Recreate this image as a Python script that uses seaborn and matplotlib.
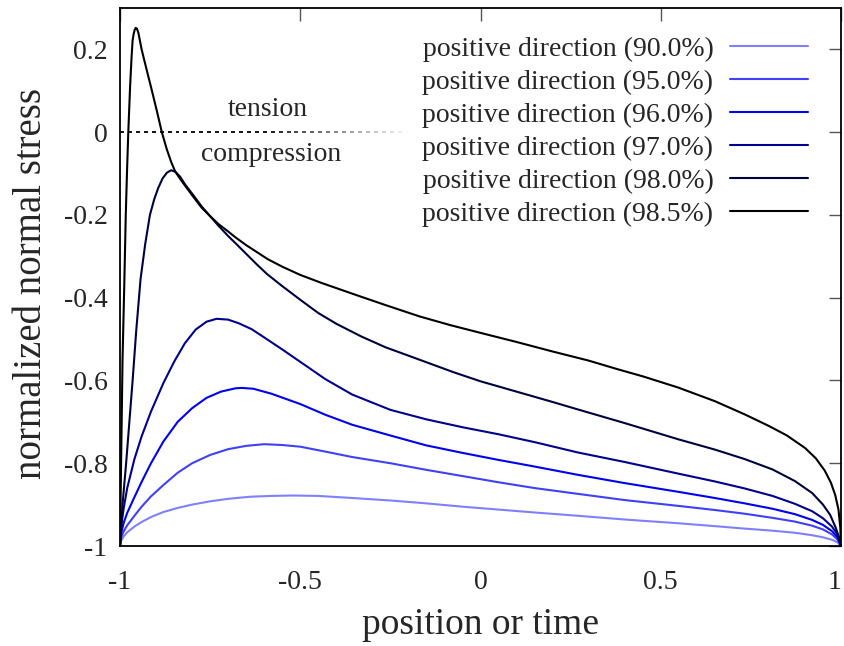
import numpy as np
import matplotlib
matplotlib.use("Agg")
import matplotlib.pyplot as plt
import seaborn as sns
from matplotlib.collections import LineCollection

# ---------------- data ----------------
labels = ["positive direction (90.0%)", "positive direction (95.0%)",
          "positive direction (96.0%)", "positive direction (97.0%)",
          "positive direction (98.0%)", "positive direction (98.5%)"]
colors = ["#8080ff", "#4040f8", "#0000f0", "#00008c", "#00003c", "#000000"]

x_900 = [-1.0, -0.997, -0.99, -0.98, -0.96, -0.94, -0.914, -0.88, -0.84, -0.8, -0.75,
         -0.7, -0.64, -0.58, -0.52, -0.45, -0.356, -0.25, -0.15, -0.05, 0.05, 0.15,
         0.27, 0.4, 0.548, 0.65, 0.733, 0.81, 0.872, 0.92, 0.95, 0.975, 0.99, 1.0]
y_900 = [-1.0, -0.988, -0.977, -0.967, -0.953, -0.942, -0.93, -0.918, -0.908, -0.9, -0.892,
         -0.886, -0.881, -0.879, -0.878, -0.879, -0.884, -0.89, -0.897, -0.905, -0.912, -0.919,
         -0.927, -0.936, -0.945, -0.952, -0.958, -0.963, -0.968, -0.974, -0.979, -0.985, -0.991, -1.0]

x_950 = [-1.0, -0.997, -0.99, -0.98, -0.96, -0.94, -0.914, -0.88, -0.84, -0.8, -0.75,
         -0.7, -0.65, -0.6, -0.55, -0.5, -0.43, -0.356, -0.25, -0.15, -0.05, 0.05, 0.15,
         0.27, 0.4, 0.548, 0.65, 0.733, 0.81, 0.872, 0.92, 0.95, 0.975, 0.99, 1.0]
y_950 = [-1.0, -0.98, -0.965, -0.95, -0.927, -0.905, -0.88, -0.853, -0.823, -0.8, -0.78,
         -0.766, -0.758, -0.754, -0.756, -0.76, -0.772, -0.785, -0.8, -0.816, -0.831, -0.846, -0.86,
         -0.874, -0.889, -0.903, -0.913, -0.922, -0.932, -0.941, -0.951, -0.96, -0.972, -0.984, -1.0]

x_960 = [-1.0, -0.997, -0.99, -0.98, -0.96, -0.94, -0.914, -0.88, -0.84, -0.8, -0.76,
         -0.72, -0.68, -0.663, -0.63, -0.58, -0.5, -0.43, -0.356, -0.25, -0.15, -0.05,
         0.05, 0.15, 0.27, 0.4, 0.548, 0.65, 0.733, 0.81, 0.872, 0.92, 0.95, 0.975, 0.99, 1.0]
y_960 = [-1.0, -0.97, -0.945, -0.92, -0.882, -0.845, -0.8, -0.748, -0.7, -0.667, -0.642,
         -0.627, -0.619, -0.618, -0.62, -0.632, -0.657, -0.683, -0.707, -0.733, -0.757, -0.775,
         -0.792, -0.808, -0.828, -0.848, -0.869, -0.884, -0.897, -0.91, -0.923, -0.937, -0.949,
         -0.964, -0.979, -1.0]

x_970 = [-1.0, -0.997, -0.99, -0.98, -0.96, -0.94, -0.914, -0.88, -0.85, -0.82, -0.79,
         -0.76, -0.732, -0.7, -0.67, -0.635, -0.6, -0.55, -0.5, -0.43, -0.356, -0.25, -0.15,
         -0.05, 0.05, 0.15, 0.27, 0.4, 0.548, 0.65, 0.733, 0.81, 0.872, 0.92, 0.95, 0.975,
         0.99, 1.0]
y_970 = [-1.0, -0.955, -0.91, -0.86, -0.79, -0.735, -0.675, -0.607, -0.555, -0.51, -0.477,
         -0.458, -0.451, -0.453, -0.462, -0.476, -0.496, -0.525, -0.555, -0.597, -0.634, -0.671,
         -0.694, -0.713, -0.73, -0.749, -0.774, -0.797, -0.825, -0.844, -0.861, -0.879, -0.898,
         -0.916, -0.933, -0.953, -0.972, -1.0]

x_980 = [-1.0, -0.993, -0.983, -0.974, -0.965, -0.955, -0.943, -0.93, -0.917, -0.905,
         -0.894, -0.882, -0.87, -0.858, -0.846, -0.833, -0.819, -0.796, -0.773, -0.75,
         -0.727, -0.7, -0.68, -0.65, -0.62, -0.592, -0.55, -0.5, -0.45, -0.4, -0.33, -0.263,
         -0.2, -0.15, -0.075, 0.0, 0.1, 0.2, 0.27, 0.4, 0.548, 0.65, 0.733, 0.81, 0.872,
         0.92, 0.95, 0.97, 0.985, 0.995, 1.0]
y_980 = [-1.0, -0.9, -0.8, -0.7, -0.6, -0.48, -0.355, -0.27, -0.2, -0.162,
         -0.135, -0.112, -0.098, -0.092, -0.096, -0.108, -0.127, -0.153, -0.18, -0.203,
         -0.226, -0.251, -0.268, -0.294, -0.32, -0.343, -0.372, -0.405, -0.437, -0.463, -0.494,
         -0.52, -0.54, -0.556, -0.58, -0.602, -0.627, -0.652, -0.67, -0.703, -0.742, -0.767,
         -0.79, -0.815, -0.843, -0.872, -0.9, -0.925, -0.955, -0.98, -1.0]

x_985 = [-1.0, -0.997, -0.993, -0.988, -0.984, -0.98, -0.977, -0.972, -0.968, -0.965,
         -0.962, -0.959, -0.9565, -0.953, -0.949, -0.945, -0.94, -0.933, -0.925, -0.912,
         -0.898, -0.884, -0.87, -0.858, -0.847, -0.833, -0.819, -0.796, -0.773, -0.75,
         -0.727, -0.7, -0.68, -0.65, -0.62, -0.59, -0.55, -0.5, -0.442, -0.35, -0.263,
         -0.17, -0.085, 0.0, 0.1, 0.2, 0.3, 0.381, 0.45, 0.548, 0.65, 0.733, 0.8, 0.85,
         0.9, 0.93, 0.955, 0.972, 0.984, 0.993, 0.998, 1.0]
y_985 = [-1.0, -0.8, -0.55, -0.364, -0.2, -0.08, 0.0, 0.11, 0.18, 0.222,
         0.238, 0.248, 0.252, 0.25, 0.24, 0.222, 0.2, 0.175, 0.147, 0.102,
         0.052, 0.0, -0.042, -0.072, -0.095, -0.113, -0.13, -0.157, -0.183, -0.203,
         -0.222, -0.24, -0.254, -0.273, -0.29, -0.307, -0.325, -0.345, -0.364, -0.392, -0.418,
         -0.445, -0.466, -0.485, -0.507, -0.53, -0.552, -0.573, -0.59, -0.617, -0.65, -0.682,
         -0.71, -0.733, -0.763, -0.788, -0.818, -0.847, -0.877, -0.912, -0.955, -1.0]

series_x = [x_900, x_950, x_960, x_970, x_980, x_985]
series_y = [y_900, y_950, y_960, y_970, y_980, y_985]

x_ticks = [-1, -0.5, 0, 0.5, 1]
x_ticklabels = ["-1", "-0.5", "0", "0.5", "1"]
y_ticks = [-1, -0.8, -0.6, -0.4, -0.2, 0, 0.2]
y_ticklabels = ["-1", "-0.8", "-0.6", "-0.4", "-0.2", "0", "0.2"]

# ---------------- style ----------------
sns.set_theme(style="white")
plt.rcParams["font.family"] = ["Liberation Serif", "DejaVu Serif"]
plt.rcParams["axes.unicode_minus"] = False

fig = plt.figure(figsize=(8.44, 6.46), dpi=100)
ax = fig.add_axes([120 / 844, 100 / 646, 721 / 844, 538 / 646])

for xs, ys, c, lab in zip(series_x, series_y, colors, labels):
    sns.lineplot(x=xs, y=ys, sort=False, estimator=None, color=c, lw=1.5,
                 label=lab, ax=ax)

# fading dashed zero line
dash_starts = np.arange(-1.0, -0.2, 0.022)
segs = [[(s, 0.0), (s + 0.011, 0.0)] for s in dash_starts]
grey = np.clip((dash_starts + 0.6) / 0.4, 0, 1)
cols = [(g, g, g) for g in grey]
ax.add_collection(LineCollection(segs, colors=cols, linewidths=1.3))

ax.text(-0.589, 0.055, "tension", ha="center", va="center", fontsize=20)
ax.text(-0.581, -0.055, "compression", ha="center", va="center", fontsize=20)

ax.set_xlim(-1, 1)
ax.set_ylim(-1, 0.3)
ax.set_xticks(x_ticks)
ax.set_xticklabels(x_ticklabels)
ax.set_yticks(y_ticks)
ax.set_yticklabels(y_ticklabels)
ax.tick_params(direction="in", top=True, right=True, length=9, width=1,
               color="#555555", labelsize=20)
ax.tick_params(axis="x", pad=17)
ax.tick_params(axis="y", pad=9)
ax.get_xticklabels()[-1].set_ha("right")
for sp in ax.spines.values():
    sp.set_color("black")
    sp.set_linewidth(1.3)

ax.set_xlabel("position or time", fontsize=27, labelpad=9)
ax.set_ylabel("normalized normal stress", fontsize=28, labelpad=10)
ax.yaxis.label.set_y(0.488)

leg = ax.legend(loc="upper right", bbox_to_anchor=(0.954, 0.947), frameon=False,
                markerfirst=False, fontsize=20, handlelength=2.8,
                handletextpad=0.6, labelspacing=0.27, borderpad=0, borderaxespad=0)
for t in leg.get_texts():
    t.set_ha("right")

fig.savefig("out.png", dpi=100)
